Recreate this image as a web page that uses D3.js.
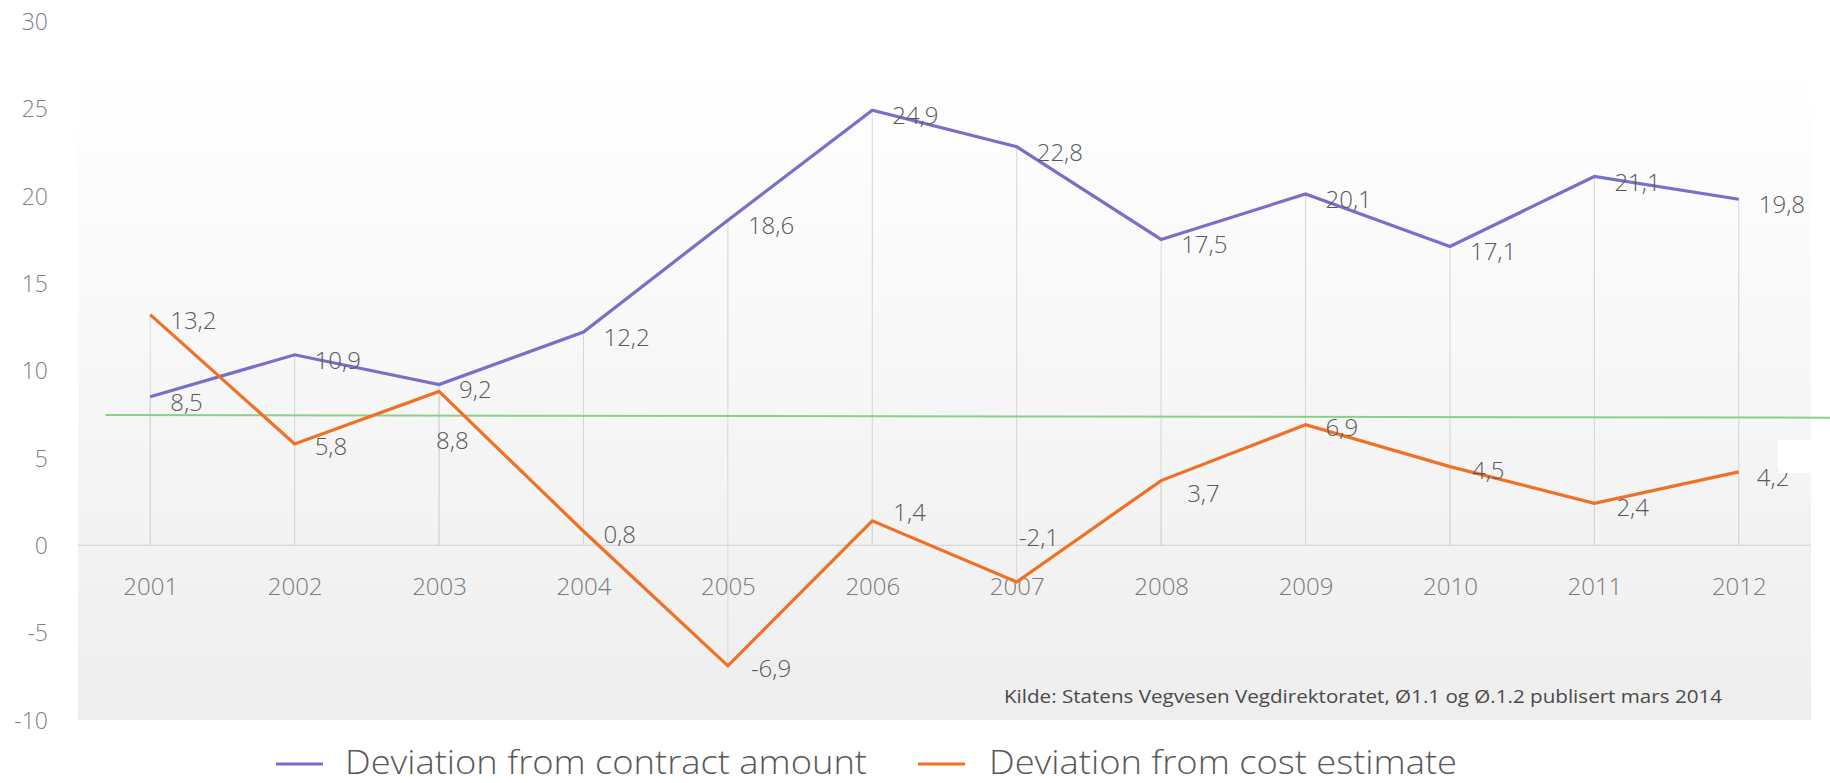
<!DOCTYPE html>
<html>
<head>
<meta charset="utf-8">
<script src="https://cdn.jsdelivr.net/npm/d3@7"></script>
<style>
  html, body { margin: 0; padding: 0; background: #ffffff; }
  svg { display: block; }
  text { font-family: "Open Sans", "Noto Sans", sans-serif; }
</style>
</head>
<body>
<svg id="chart" width="1830" height="783"></svg>
<script>
// Chart data
const years = ["2001","2002","2003","2004","2005","2006","2007","2008","2009","2010","2011","2012"];
const contractDeviation = [8.5, 10.9, 9.2, 12.2, 18.6, 24.9, 22.8, 17.5, 20.1, 17.1, 21.1, 19.8];
const estimateDeviation = [13.2, 5.8, 8.8, 0.8, -6.9, 1.4, -2.1, 3.7, 6.9, 4.5, 2.4, 4.2];
const benchmarkLevel = [7.45, 7.3];   // reference line, left end and right end
const yTicks = [-10, -5, 0, 5, 10, 15, 20, 25, 30];
const seriesNames = ["Deviation from contract amount", "Deviation from cost estimate"];
const sourceNote = "Kilde:  Statens Vegvesen Vegdirektoratet,  Ø1.1 og Ø.1.2 publisert mars 2014";

// Label nudges (pixels) relative to the default right-of-point placement
const contractNudge = years.map(() => [0, 0]);
const estimateNudge = [[0,0],[0,-3],[-23,44],[0,-2],[3,-3],[1,-14],[-18,-50],[6,7],[0,-3],[2,-2],[2,-1],[-2,0]];

const W = 1830, H = 783;
const plot = { left: 78, right: 1811, top: 21, bottom: 720 };

const svg = d3.select("#chart");

const x = d3.scalePoint().domain(years).range([plot.left, plot.right]).padding(0.5);
const y = d3.scaleLinear().domain([-10, 30]).range([plot.bottom, plot.top]);

// Hyphen-minus and decimal comma, as in Norwegian number style
const hyphen = s => s.replace("\u2212", "-");

// Plot background: soft vertical gradient
const defs = svg.append("defs");
const grad = defs.append("linearGradient").attr("id", "plotBg")
  .attr("x1", 0).attr("y1", 0).attr("x2", 0).attr("y2", 1);
grad.append("stop").attr("offset", "0%").attr("stop-color", "#ffffff");
grad.append("stop").attr("offset", "12%").attr("stop-color", "#fdfdfd");
grad.append("stop").attr("offset", "100%").attr("stop-color", "#eeeeee");

svg.append("rect")
  .attr("x", plot.left).attr("y", y(30) + 40)
  .attr("width", plot.right - plot.left).attr("height", plot.bottom - y(30) - 40)
  .attr("fill", "url(#plotBg)");

// Drop lines from each point to the category axis
const dropData = [];
years.forEach((yr, i) => {
  dropData.push({ yr, v: contractDeviation[i] });
  dropData.push({ yr, v: estimateDeviation[i] });
});
svg.append("g").selectAll("line").data(dropData).join("line")
  .attr("x1", d => x(d.yr)).attr("x2", d => x(d.yr))
  .attr("y1", d => y(d.v)).attr("y2", y(0))
  .attr("stroke", "#d6d6d6").attr("stroke-width", 1);

// Category axis line at zero
svg.append("line")
  .attr("x1", plot.left).attr("x2", plot.right)
  .attr("y1", y(0)).attr("y2", y(0))
  .attr("stroke", "#d0d0d0").attr("stroke-width", 1.2);

// Y axis labels
const yAxis = d3.axisLeft(y).tickValues(yTicks).tickSize(0).tickPadding(0)
  .tickFormat(d => hyphen(d3.format("d")(d)));
const yg = svg.append("g").attr("transform", "translate(48,0)").call(yAxis);
yg.select(".domain").remove();
yg.selectAll("text")
  .attr("font-size", 23).attr("font-weight", 300).attr("fill", "#7f7f7f")
  .attr("font-family", "'Open Sans', sans-serif")
  .attr("dy", "0.36em");

// X axis labels under the zero line
const xAxis = d3.axisBottom(x).tickSize(0).tickPadding(0);
const xg = svg.append("g").attr("transform", `translate(0,${y(0)})`).call(xAxis);
xg.select(".domain").remove();
xg.selectAll("text")
  .attr("font-size", 24).attr("font-weight", 300).attr("fill", "#7a7a7a")
  .attr("font-family", "'Open Sans', sans-serif")
  .attr("dy", 0).attr("y", 50);

// Reference line
const step = x.step();
svg.append("line")
  .attr("x1", x(years[0]) - step * 0.31).attr("x2", W)
  .attr("y1", y(benchmarkLevel[0])).attr("y2", y(benchmarkLevel[1]))
  .attr("stroke", "#8ad08a").attr("stroke-width", 2);

// Series lines
const line = d3.line().x((d, i) => x(years[i])).y(d => y(d));
svg.append("path").datum(contractDeviation)
  .attr("d", line).attr("fill", "none")
  .attr("stroke", "#7670c8").attr("stroke-width", 3.2).attr("stroke-linejoin", "miter");
svg.append("path").datum(estimateDeviation)
  .attr("d", line).attr("fill", "none")
  .attr("stroke", "#f07025").attr("stroke-width", 3.2).attr("stroke-linejoin", "miter");

// Value labels
const fmt = v => hyphen(d3.format(".1f")(v)).replace(".", ",");
function drawLabels(values, nudge) {
  svg.append("g").selectAll("text").data(values).join("text")
    .attr("x", (d, i) => x(years[i]) + 20 + nudge[i][0])
    .attr("y", (d, i) => y(d) + 14 + nudge[i][1])
    .attr("font-size", 24).attr("font-weight", 300).attr("fill", "#595959")
    .text(d => fmt(d));
}
drawLabels(contractDeviation, contractNudge);
drawLabels(estimateDeviation, estimateNudge);

// Small blank patch at the right edge
svg.append("rect").attr("x", 1778).attr("y", 440).attr("width", 33).attr("height", 33)
  .attr("fill", "#ffffff");

// Source note
svg.append("text")
  .attr("x", 1004).attr("y", 703)
  .attr("font-size", 18).attr("font-weight", 400).attr("fill", "#4a4a4a")
  .attr("textLength", 718).attr("lengthAdjust", "spacingAndGlyphs")
  .text(sourceNote);

// Legend
const legendItems = [
  { name: seriesNames[0], color: "#7670c8", x0: 276, x1: 323, tx: 345, tw: 522 },
  { name: seriesNames[1], color: "#f07025", x0: 918, x1: 965, tx: 989, tw: 468 }
];
const lg = svg.append("g");
legendItems.forEach(it => {
  lg.append("line").attr("x1", it.x0).attr("x2", it.x1).attr("y1", 764).attr("y2", 764)
    .attr("stroke", it.color).attr("stroke-width", 3.2);
  lg.append("text").attr("x", it.tx).attr("y", 774)
    .attr("font-size", 33).attr("font-weight", 300).attr("fill", "#595959")
    .attr("textLength", it.tw).attr("lengthAdjust", "spacingAndGlyphs")
    .text(it.name);
});
</script>
</body>
</html>
